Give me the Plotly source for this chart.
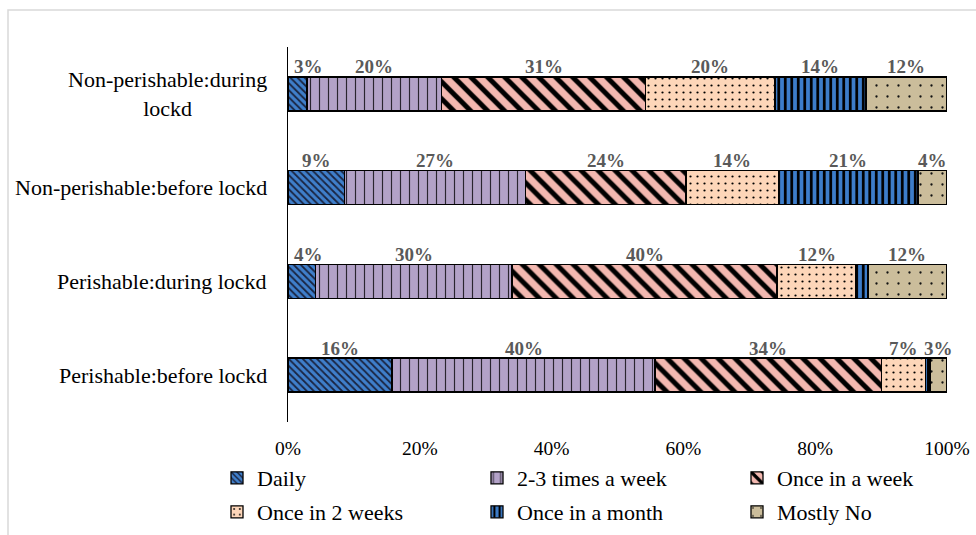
import plotly.graph_objects as go

# Purchase frequency shares (%) per product group and period
categories = [
    "Perishable:before lockd",
    "Perishable:during lockd",
    "Non-perishable:before lockd",
    "Non-perishable:during lockd",
]
category_labels = [
    "Perishable:before lockd",
    "Perishable:during lockd",
    "Non-perishable:before lockd",
    "Non-perishable:during<br>lockd",
]

daily = [15.8, 4.2, 8.6, 2.9]
two_three_week = [39.9, 29.8, 27.4, 20.4]
once_week = [34.4, 40.2, 24.4, 31.0]
once_two_weeks = [6.6, 12.0, 14.0, 19.6]
once_month = [0.7, 1.8, 21.2, 13.8]
mostly_no = [2.6, 12.0, 4.4, 12.3]

x_ticks = [0, 20, 40, 60, 80, 100]

series = [
    ("Daily", daily, dict(shape="\\", bgcolor="#3f7fcb", fgcolor="#1a2440", size=5, solidity=0.35), "legend"),
    ("2-3 times a week", two_three_week, dict(shape="|", bgcolor="#b3a2c8", fgcolor="#2a2530", size=9, solidity=0.13), "legend"),
    ("Once in a week", once_week, dict(shape="\\", bgcolor="#f3b8b0", fgcolor="#000000", size=12, solidity=0.42), "legend"),
    ("Once in 2 weeks", once_two_weeks, dict(shape=".", bgcolor="#fdd6b9", fgcolor="#000000", size=7, solidity=0.08), "legend2"),
    ("Once in a month", once_month, dict(shape="|", bgcolor="#3d7dca", fgcolor="#000000", size=6.5, solidity=0.42), "legend2"),
    ("Mostly No", mostly_no, dict(shape=".", bgcolor="#cbbd9b", fgcolor="#111111", size=11, solidity=0.035), "legend2"),
]

FONT = "Liberation Serif, Times New Roman, serif"

fig = go.Figure()
for name, vals, pattern, leg in series:
    fig.add_trace(go.Bar(
        name=name,
        y=categories,
        x=vals,
        orientation="h",
        marker=dict(color=pattern["bgcolor"], pattern=dict(fillmode="replace", **pattern),
                    line=dict(color="#000000", width=1.3)),
        legend=leg,
        hovertemplate=f"{name}: %{{x:.1f}}%<extra></extra>",
    ))

# value labels above each segment
annotations = []
cum = [0.0] * len(categories)
for name, vals, pattern, leg in series:
    for j, v in enumerate(vals):
        if v >= 2.5:
            center = cum[j] + v / 2
            near_axis = center < 2.5
            annotations.append(dict(
                x=cum[j] if near_axis else center, y=categories[j], xref="x", yref="y",
                xanchor="left" if near_axis else "center", xshift=4 if near_axis else 0,
                text=f"{round(v)}%", showarrow=False, yshift=27,
                font=dict(family=FONT, size=19, color="#595959", weight="bold"),
            ))
        cum[j] += v

# category labels (centered multi-line text)
for cat, lab in zip(categories, category_labels):
    annotations.append(dict(
        x=0, y=cat, xref="paper", yref="y", text=lab, showarrow=False,
        xanchor="right", yanchor="middle", align="center", xshift=-19,
        font=dict(family=FONT, size=22, color="#000000"),
    ))

L, R, T, B = 288, 29, 47, 113
W, H = 976, 535
pw, ph = W - L - R, H - T - B


def px(xp):
    return (xp - L) / pw


def py(yp):
    return (H - B - yp) / ph


legend_style = dict(orientation="h", xanchor="left", yanchor="middle",
                    entrywidth=215, entrywidthmode="pixels", traceorder="normal",
                    font=dict(family=FONT, size=22, color="#000000"),
                    bgcolor="rgba(0,0,0,0)", borderwidth=0)

fig.update_layout(
    width=W, height=H,
    margin=dict(l=L, r=R, t=T, b=B, autoexpand=False),
    barmode="stack",
    bargap=0.637,
    plot_bgcolor="white",
    paper_bgcolor="white",
    font=dict(family=FONT, size=19, color="#000000"),
    annotations=annotations,
    xaxis=dict(range=[0, 100], tickvals=x_ticks, ticktext=[f"{t}%" for t in x_ticks],
               showgrid=False, zeroline=False, showline=False, ticks="",
               ticklabelstandoff=12,
               tickfont=dict(family=FONT, size=19.5, color="#000000"), fixedrange=True),
    yaxis=dict(categoryorder="array", categoryarray=categories, showticklabels=False,
               showgrid=False, zeroline=False, showline=True, linecolor="#000000",
               linewidth=1.3, ticks="", fixedrange=True),
    legend=dict(x=px(217), y=py(478), **legend_style),
    legend2=dict(x=px(217), y=py(512), **legend_style),
    shapes=[
        dict(type="path", xref="paper", yref="paper",
             path=f"M {px(W + 5)} {py(10)} L {px(8)} {py(10)} L {px(8)} {py(H + 5)}",
             line=dict(color="#d9d9d9", width=1.5), layer="below"),
    ],
)

fig.write_html("out.html")
